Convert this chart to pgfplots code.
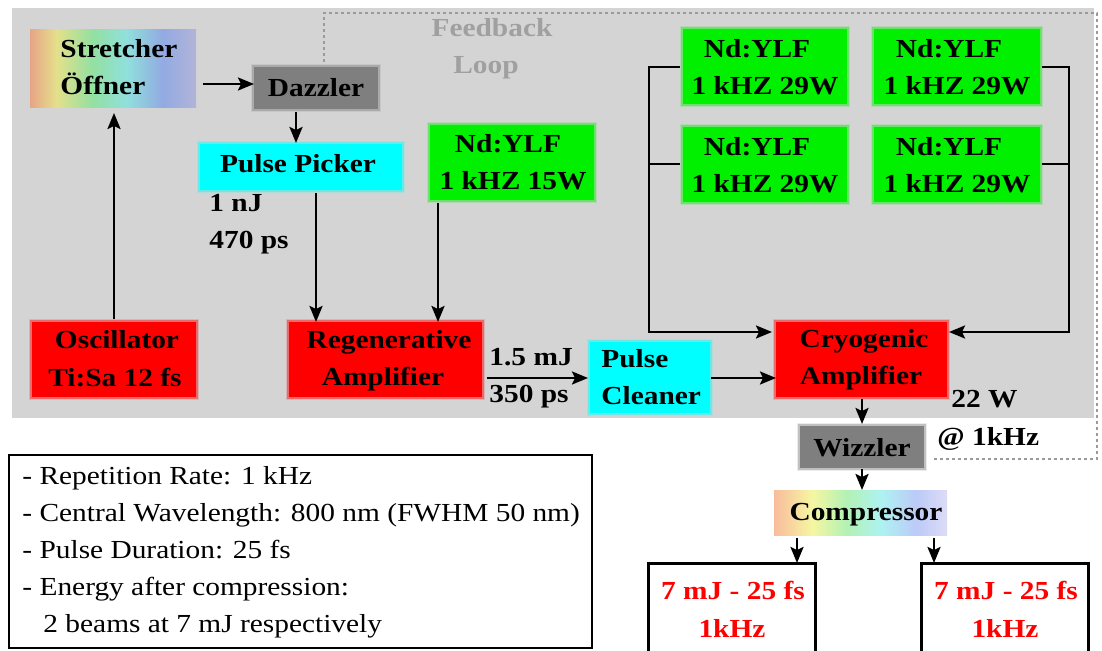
\documentclass[border=0pt]{standalone}
\usepackage{pgfplots}
\pgfplotsset{compat=1.18}
\usetikzlibrary{arrows.meta}
\usepackage{fontspec}
\setmainfont{Liberation Serif}

\definecolor{bggrey}{HTML}{D4D4D4}
\definecolor{boxgrey}{HTML}{7F7F7F}
\definecolor{ndgreen}{HTML}{00F000}
\definecolor{pcyan}{HTML}{00FFFF}
\definecolor{fbtext}{HTML}{A0A0A0}
\definecolor{dotgrey}{HTML}{9A9A9A}
% rainbow of the stretcher (on grey) and of the compressor (on white)
\definecolor{sa1}{HTML}{E8A487}\definecolor{sa2}{HTML}{E4E08A}
\definecolor{sa3}{HTML}{92E0A2}\definecolor{sa4}{HTML}{90E0DC}
\definecolor{sa5}{HTML}{92AAE2}\definecolor{sa6}{HTML}{B2B4D8}
\definecolor{cb1}{HTML}{F8BC9C}\definecolor{cb2}{HTML}{F6F6A2}
\definecolor{cb3}{HTML}{B2F2B4}\definecolor{cb4}{HTML}{AEF2F2}
\definecolor{cb5}{HTML}{BCCAF8}\definecolor{cb6}{HTML}{DCDCF6}
\pgfdeclarehorizontalshading{rainbowA}{100bp}{color(0bp)=(sa1); color(25bp)=(sa1);
  color(33bp)=(sa2); color(44bp)=(sa3); color(54bp)=(sa4); color(65bp)=(sa5); color(75bp)=(sa6); color(100bp)=(sa6)}
\pgfdeclarehorizontalshading{rainbowB}{100bp}{color(0bp)=(cb1); color(25bp)=(cb1);
  color(36bp)=(cb2); color(46bp)=(cb3); color(56bp)=(cb4); color(66bp)=(cb5); color(75bp)=(cb6); color(100bp)=(cb6)}

\tikzset{
  arr/.style={-{Stealth[length=8pt,width=6.5pt,inset=1.5pt]}, line width=1.2pt, black},
  ln/.style={line width=1.2pt, black},
  bl/.style={font=\fontsize{13}{15}\bfseries\selectfont, xscale=1.13, inner sep=0pt, anchor=base},
  bll/.style={bl, anchor=base west},
  tl/.style={font=\fontsize{13}{15}\selectfont, xscale=1.13, inner sep=0pt, anchor=base west},
}

% x1 y1 x2 y2 colour; two soft strokes give the blurred edge
\newcommand{\bx}[5]{%
  \addplot[draw=#5, draw opacity=0.15, line width=3.2pt]
    coordinates {(#1,#2) (#3,#2) (#3,#4) (#1,#4)} -- cycle;
  \addplot[fill=#5, draw=#5, draw opacity=0.4, line width=1.6pt]
    coordinates {(#1,#2) (#3,#2) (#3,#4) (#1,#4)} -- cycle;}

\begin{document}
\begin{tikzpicture}
\begin{axis}[width=551pt, height=325.5pt, scale only axis,
  xmin=0, xmax=1102, ymin=0, ymax=651, y dir=reverse,
  axis lines=none, ticks=none, no markers]

% grey background of the amplifier chain
\addplot[fill=bggrey, draw=none] coordinates {(12,8) (1094,8) (1094,418) (12,418)} -- cycle;

% feedback loop
\addplot[dotgrey, line width=1.3pt, dash pattern=on 1.3pt off 1.7pt]
  coordinates {(324,62) (324,13) (1097,13) (1097,459) (932,459)};
\node[bl, text=fbtext] at (axis cs:492,37) {Feedback};
\node[bl, text=fbtext] at (axis cs:486,74) {Loop};

% boxes
\addplot[draw=none, shading=rainbowA] coordinates {(30,30) (196,30) (196,108) (30,108)} -- cycle;
\bx{254}{67}{378}{109}{boxgrey}
\bx{200}{144}{402}{190}{pcyan}
\bx{430}{125}{594}{200}{ndgreen}
\bx{32}{322}{196}{397}{red}
\bx{289}{322}{482}{397}{red}
\bx{590}{342}{710}{413}{pcyan}
\bx{776}{322}{947}{397}{red}
\bx{683}{29}{847}{104}{ndgreen}
\bx{874}{29}{1040}{104}{ndgreen}
\bx{683}{127}{847}{202}{ndgreen}
\bx{874}{127}{1040}{202}{ndgreen}
\bx{800}{426}{924}{468}{boxgrey}
\addplot[draw=none, shading=rainbowB] coordinates {(774,491) (947,491) (947,535) (774,535)} -- cycle;

% output boxes (cut by the lower edge)
\addplot[ln, line width=1.5pt] coordinates {(648,651) (648,563) (815,563) (815,651)};
\addplot[ln, line width=1.5pt] coordinates {(921,651) (921,563) (1088,563) (1088,651)};

% specifications
\addplot[ln, line width=1.3pt] coordinates {(9,455) (592,455) (592,648) (9,648)} -- cycle;

% arrows
\addplot[arr] coordinates {(203,84) (254,84)};
\addplot[arr] coordinates {(296,112) (296,143)};
\addplot[arr] coordinates {(316,193) (316,322)};
\addplot[arr] coordinates {(438,203) (438,322)};
\addplot[arr] coordinates {(114,319) (114,113)};
\addplot[arr] coordinates {(487,378) (588,378)};
\addplot[arr] coordinates {(711,378) (776,378)};
\addplot[arr] coordinates {(680,67) (649,67) (649,332) (772,332)};
\addplot[ln] coordinates {(680,164) (649,164)};
\addplot[arr] coordinates {(1042,67) (1069,67) (1069,332) (949,332)};
\addplot[ln] coordinates {(1042,164) (1069,164)};
\addplot[arr] coordinates {(862,399) (862,424)};
\addplot[arr] coordinates {(862,469) (862,490)};
\addplot[arr] coordinates {(797,538) (797,563)};
\addplot[arr] coordinates {(934,538) (934,563)};

% labels
\node[bll] at (axis cs:60,58) {Stretcher};
\node[bll] at (axis cs:60,95) {Öffner};
\node[bl] at (axis cs:316,97) {Dazzler};
\node[bl] at (axis cs:298,173) {Pulse Picker};
\node[bll] at (axis cs:209,212) {1 nJ};
\node[bll] at (axis cs:209,249) {470 ps};
\node[bl] at (axis cs:508,153) {Nd:YLF};
\node[bl] at (axis cs:513,190) {1 kHZ 15W};
\node[bl] at (axis cs:117,349) {Oscillator};
\node[bl] at (axis cs:115,387) {Ti:Sa 12 fs};
\node[bl] at (axis cs:389,349) {Regenerative};
\node[bl] at (axis cs:383,386) {Amplifier};
\node[bll] at (axis cs:489,366) {1.5 mJ};
\node[bll] at (axis cs:489,403) {350 ps};
\node[bll] at (axis cs:601,368) {Pulse};
\node[bll] at (axis cs:601,405) {Cleaner};
\node[bl] at (axis cs:864,348) {Cryogenic};
\node[bl] at (axis cs:861,385) {Amplifier};
\node[bll] at (axis cs:951,408) {22 W};
\node[bll] at (axis cs:937,446) {@ 1kHz};
\node[bl] at (axis cs:862,457) {Wizzler};
\node[bl] at (axis cs:866,521) {Compressor};
\node[bl] at (axis cs:757,58) {Nd:YLF};
\node[bl] at (axis cs:949,58) {Nd:YLF};
\node[bl] at (axis cs:757,156) {Nd:YLF};
\node[bl] at (axis cs:949,156) {Nd:YLF};
\node[bl] at (axis cs:765,95) {1 kHZ 29W};
\node[bl] at (axis cs:957,95) {1 kHZ 29W};
\node[bl] at (axis cs:765,193) {1 kHZ 29W};
\node[bl] at (axis cs:957,193) {1 kHZ 29W};
\node[bl, text=red] at (axis cs:733,599) {7 mJ - 25 fs};
\node[bl, text=red] at (axis cs:732,637) {1kHz};
\node[bl, text=red] at (axis cs:1006,599) {7 mJ - 25 fs};
\node[bl, text=red] at (axis cs:1005,637) {1kHz};

\node[tl] at (axis cs:22,485) {- Repetition Rate: 1 kHz};
\node[tl] at (axis cs:22,522) {- Central Wavelength: 800 nm (FWHM 50 nm)};
\node[tl] at (axis cs:22,558) {- Pulse Duration: 25 fs};
\node[tl] at (axis cs:22,595) {- Energy after compression:};
\node[tl] at (axis cs:43,632) {2 beams at 7 mJ respectively};
\end{axis}
\pgfresetboundingbox
\useasboundingbox (current axis.south west) rectangle (current axis.north east);
\end{tikzpicture}
\end{document}
